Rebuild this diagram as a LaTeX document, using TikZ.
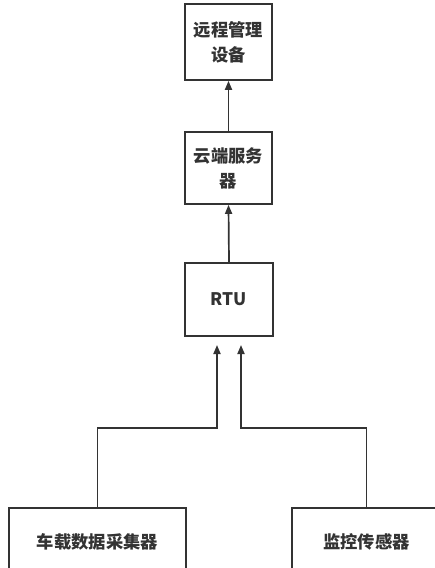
\documentclass[tikz,border=0pt]{standalone}
\usepackage{fontspec}
\setmainfont{Noto Sans CJK SC}
\usetikzlibrary{arrows.meta}
\definecolor{ink}{HTML}{333333}
\begin{document}
\begin{tikzpicture}[x=1pt,y=-1pt,
  box/.style={draw=ink,line width=1.7pt,fill=white,text=ink,align=center,
    font=\fontsize{17.3}{25}\selectfont\bfseries,inner sep=0pt},
  conn/.style={draw=ink,line width=1.7pt,-{Triangle[length=9pt,width=7pt]}}]
\useasboundingbox (0,0) rectangle (435,568);
\fill[white] (0,0) rectangle (435,568);
\node[box,minimum width=87pt,minimum height=76pt] (remote) at (228.5,42) {远程管理\\设备};
\node[box,minimum width=87pt,minimum height=72pt] (cloud) at (228.5,168) {云端服务\\器};
\node[box,minimum width=88pt,minimum height=73pt] (rtu) at (229,299.5) {RTU};
\node[box,minimum width=177pt,minimum height=68pt] (collector) at (97.5,542) {车载数据采集器};
\node[box,minimum width=149pt,minimum height=68pt] (sensor) at (366.5,542) {监控传感器};
\coordinate (lt) at (217,345);
\coordinate (lj) at (217,428);
\coordinate (rt) at (241,345);
\coordinate (rj) at (241,428);
\draw[conn] (cloud.north) -- (remote.south);
\draw[conn] (rtu.north) -- (cloud.south);
\draw[conn] (collector.north) |- (lj) -- (lt);
\draw[conn] (sensor.north) |- (rj) -- (rt);
\end{tikzpicture}
\end{document}
